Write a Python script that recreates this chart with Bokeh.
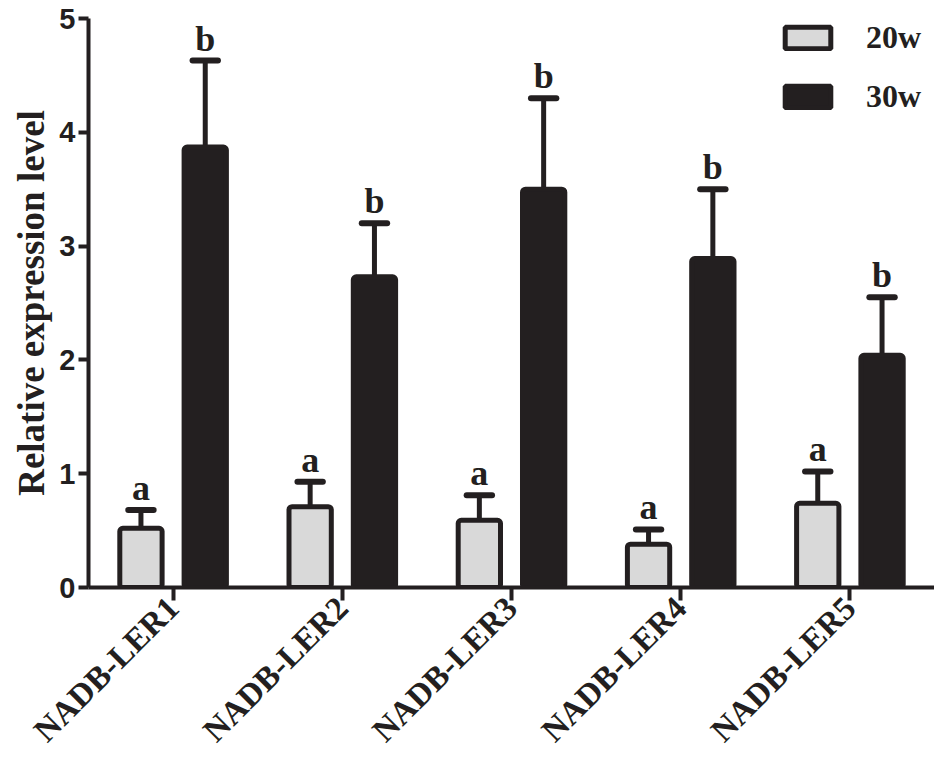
import math
from bokeh.plotting import figure
from bokeh.models import ColumnDataSource, FactorRange, Range1d, Legend, LegendItem, FixedTicker
from bokeh.transform import dodge
from bokeh.core.properties import value
from bokeh.embed import file_html
from bokeh.resources import INLINE

genes = ["NADB-LER1", "NADB-LER2", "NADB-LER3", "NADB-LER4", "NADB-LER5"]
mean_20w = [0.52, 0.71, 0.59, 0.38, 0.74]
upper_20w = [0.68, 0.93, 0.81, 0.51, 1.02]
mean_30w = [3.87, 2.73, 3.50, 2.89, 2.04]
upper_30w = [4.63, 3.20, 4.30, 3.50, 2.55]
letters_20w = ["a", "a", "a", "a", "a"]
letters_30w = ["b", "b", "b", "b", "b"]
y_ticks = [0, 1, 2, 3, 4, 5]
series = ["20w", "30w"]

src = ColumnDataSource(dict(gene=genes, m20=mean_20w, u20=upper_20w,
                            m30=mean_30w, u30=upper_30w,
                            l20=letters_20w, l30=letters_30w))

p = figure(width=934, height=764, x_range=FactorRange(*genes), y_range=Range1d(0, 5),
           output_backend="svg", toolbar_location=None,
           min_border_left=88, min_border_right=0, min_border_top=18, min_border_bottom=176)
p.outline_line_color = None
p.xgrid.grid_line_color = None
p.ygrid.grid_line_color = None

DARK = "#231f20"
LIGHT = "#d9d9d9"
off = 0.19
bw = 0.25
cap = 0.075

for o, m, u in [(-off, "m20", "u20"), (off, "m30", "u30")]:
    p.segment(x0=dodge("gene", o, range=p.x_range), y0=m,
              x1=dodge("gene", o, range=p.x_range), y1=u,
              source=src, line_color=DARK, line_width=5)
    p.segment(x0=dodge("gene", o - cap, range=p.x_range), y0=u,
              x1=dodge("gene", o + cap, range=p.x_range), y1=u,
              source=src, line_color=DARK, line_width=6, line_cap="round")

r20 = p.vbar(x=dodge("gene", -off, range=p.x_range), top="m20", width=bw, source=src,
             fill_color=LIGHT, line_color=DARK, line_width=5, border_radius=3)
r30 = p.vbar(x=dodge("gene", off, range=p.x_range), top="m30", width=bw, source=src,
             fill_color=DARK, line_color=DARK, line_width=5, border_radius=3)

for o, u, l in [(-off, "u20", "l20"), (off, "u30", "l30")]:
    p.text(x=dodge("gene", o, range=p.x_range), y=u, text=l, source=src,
           text_align="center", text_baseline="bottom", y_offset=-2,
           text_font=value("Liberation Serif"), text_font_style="bold",
           text_font_size="36px", text_color=DARK)

legend = Legend(items=[LegendItem(label=series[0], renderers=[r20]),
                       LegendItem(label=series[1], renderers=[r30])],
                location=(691, 472), orientation="vertical",
                glyph_width=57, glyph_height=27, label_height=32, spacing=22,
                label_standoff=30, padding=0, margin=0,
                label_text_font="Liberation Serif", label_text_font_style="bold",
                label_text_font_size="32px", label_text_color=DARK,
                border_line_color=None, background_fill_alpha=0)
p.add_layout(legend)

for ax in (p.xaxis[0], p.yaxis[0]):
    ax.axis_line_color = DARK
    ax.axis_line_width = 4
    ax.major_tick_line_color = DARK
    ax.major_tick_line_width = 4
    ax.minor_tick_line_color = None
    ax.major_tick_in = 0

p.yaxis.ticker = FixedTicker(ticks=y_ticks)
p.yaxis.major_tick_out = 10
p.yaxis.major_label_text_font = "Liberation Sans"
p.yaxis.major_label_text_font_style = "bold"
p.yaxis.major_label_text_font_size = "29px"
p.yaxis.major_label_text_color = DARK
p.yaxis.major_label_standoff = 3
p.yaxis.axis_label = "Relative expression level"
p.yaxis.axis_label_text_font = "Liberation Serif"
p.yaxis.axis_label_text_font_style = "bold"
p.yaxis.axis_label_text_font_size = "37px"
p.yaxis.axis_label_text_color = DARK
p.yaxis.axis_label_standoff = 4

p.xaxis.major_tick_out = 13
p.xaxis.major_label_orientation = math.pi / 4
p.xaxis.major_label_text_font = "Liberation Serif"
p.xaxis.major_label_text_font_style = "bold"
p.xaxis.major_label_text_font_size = "33px"
p.xaxis.major_label_text_color = DARK
p.xaxis.major_label_standoff = 2

open("out.html", "w").write(file_html(p, INLINE))
